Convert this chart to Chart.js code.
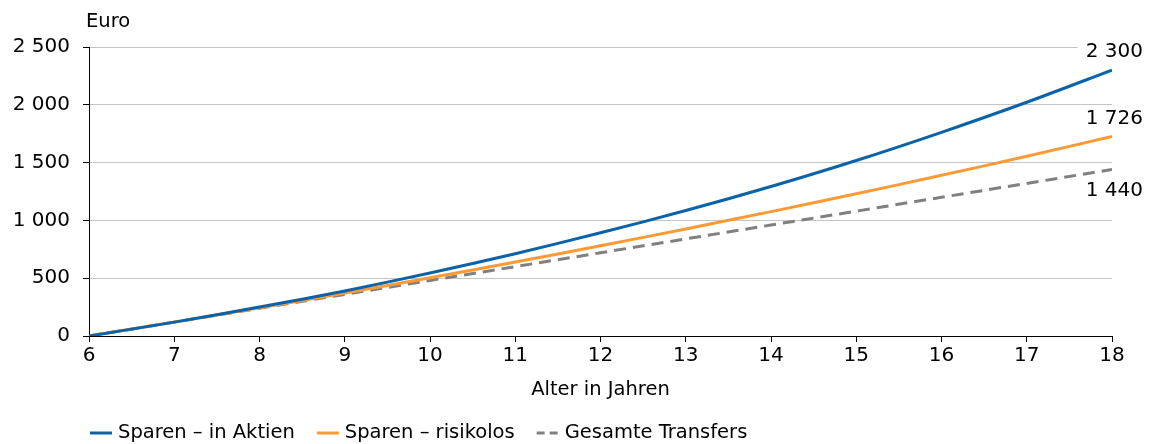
<!DOCTYPE html>
<html lang="de">
<head>
<meta charset="utf-8">
<title>Sparen vs. Transfers</title>
<script src="https://cdn.jsdelivr.net/npm/chart.js@4/dist/chart.umd.min.js"></script>
<style>
  html, body { margin: 0; padding: 0; background: #fff; }
  #wrap { width: 1158px; height: 444px; position: relative; }
</style>
</head>
<body>
<div id="wrap"><canvas id="c" width="1158" height="444"></canvas></div>
<script>
// Alter in Jahren
const ages = [6, 7, 8, 9, 10, 11, 12, 13, 14, 15, 16, 17, 18];
// Kumulierte Beträge in Euro
const sparenAktien = [0, 120, 250, 390, 545, 712, 893, 1085, 1293, 1518, 1762, 2022, 2300];
const sparenRisikolos = [0, 120, 244, 372, 504, 640, 781, 926, 1076, 1230, 1390, 1555, 1726];
const gesamteTransfers = [0, 120, 240, 360, 480, 600, 720, 840, 960, 1080, 1200, 1320, 1440];
const seriesNames = ['Sparen – in Aktien', 'Sparen – risikolos', 'Gesamte Transfers'];
const yTicks = [0, 500, 1000, 1500, 2000, 2500];

const FONT = '"DejaVu Sans", "Liberation Sans", sans-serif';
const FS = 19.5;
const TICK_FS = 20;

function fmt(v) {
  return String(Math.round(v)).replace(/\B(?=(\d{3})+(?!\d))/g, ' ');
}
function pts(values) {
  return ages.map((a, i) => ({ x: a, y: values[i] }));
}

// Endwerte rechts neben den Linien, "Euro" über der Achse, Legende unten
const extras = {
  id: 'extras',
  afterDraw(chart) {
    const { ctx, scales: { x, y } } = chart;
    ctx.save();
    ctx.font = FS + 'px ' + FONT;
    ctx.fillStyle = '#000';
    ctx.textBaseline = 'middle';

    // Achsenbeschriftung oben
    ctx.textAlign = 'left';
    ctx.fillText('Euro', x.left - 3, 22);

    // Endwerte
    ctx.font = TICK_FS + 'px ' + FONT;
    const lastX = ages[ages.length - 1];
    const ends = [
      { v: sparenAktien[sparenAktien.length - 1], dy: -18 },
      { v: sparenRisikolos[sparenRisikolos.length - 1], dy: -18 },
      { v: gesamteTransfers[gesamteTransfers.length - 1], dy: 21.5 }
    ];
    const rightX = x.getPixelForValue(lastX) + 31;
    ends.forEach(e => {
      const txt = fmt(e.v);
      const w = ctx.measureText(txt).width;
      const cy = y.getPixelForValue(e.v) + e.dy;
      ctx.fillStyle = '#fff';
      ctx.fillRect(rightX - w - 8, cy - 12, w + 10, 24);
      ctx.fillStyle = '#000';
      ctx.textAlign = 'right';
      ctx.fillText(txt, rightX, cy);
    });

    // Legende
    ctx.font = FS + 'px ' + FONT;
    let lx = 90;
    const ly = 433;
    chart.data.datasets.forEach(ds => {
      ctx.save();
      ctx.strokeStyle = ds.borderColor;
      ctx.lineWidth = 3;
      ctx.setLineDash(ds.borderDash && ds.borderDash.length ? [8, 5] : []);
      ctx.beginPath();
      ctx.moveTo(lx, ly);
      ctx.lineTo(lx + 22, ly);
      ctx.stroke();
      ctx.restore();
      ctx.textAlign = 'left';
      ctx.fillStyle = '#000';
      ctx.fillText(ds.label, lx + 28, ly);
      lx += 28 + ctx.measureText(ds.label).width + 22;
    });
    ctx.restore();
  }
};

new Chart(document.getElementById('c'), {
  type: 'line',
  data: {
    datasets: [
      {
        label: seriesNames[0],
        data: pts(sparenAktien),
        borderColor: '#0a63a8',
        borderWidth: 3,
        pointRadius: 0,
        tension: 0.3,
        borderDash: []
      },
      {
        label: seriesNames[1],
        data: pts(sparenRisikolos),
        borderColor: '#fe9a35',
        borderWidth: 3,
        pointRadius: 0,
        tension: 0.3,
        borderDash: []
      },
      {
        label: seriesNames[2],
        data: pts(gesamteTransfers),
        borderColor: '#808080',
        borderWidth: 3,
        pointRadius: 0,
        tension: 0,
        borderDash: [12, 7]
      }
    ]
  },
  options: {
    responsive: false,
    animation: false,
    events: [],
    layout: { padding: { top: 47, left: 0, right: 46, bottom: 44 } },
    plugins: {
      legend: { display: false },
      tooltip: { enabled: false }
    },
    scales: {
      x: {
        type: 'linear',
        min: ages[0],
        max: ages[ages.length - 1],
        afterFit(s) { s.height = 64; },
        afterBuildTicks(s) { s.ticks = ages.map(v => ({ value: v })); },
        grid: { drawOnChartArea: false, drawTicks: true, tickLength: 6, tickColor: '#000', tickWidth: 1 },
        border: { color: '#000', width: 1 },
        ticks: {
          color: '#000',
          padding: 2,
          maxRotation: 0,
          font: { family: FONT, size: TICK_FS },
          callback: v => String(v)
        },
        title: {
          display: true,
          text: 'Alter in Jahren',
          color: '#000',
          padding: 0,
          font: { family: FONT, size: FS, lineHeight: 1 }
        }
      },
      y: {
        min: 0,
        max: 2500,
        afterFit(s) { s.width = 89; },
        afterBuildTicks(s) { s.ticks = yTicks.map(v => ({ value: v })); },
        grid: { color: '#c4c4c4', lineWidth: 1, drawTicks: true, tickLength: 6, tickColor: '#000' },
        border: { color: '#000', width: 1 },
        ticks: {
          color: '#000',
          padding: 13,
          font: { family: FONT, size: TICK_FS },
          callback: v => fmt(v)
        }
      }
    }
  },
  plugins: [extras]
});
</script>
</body>
</html>
